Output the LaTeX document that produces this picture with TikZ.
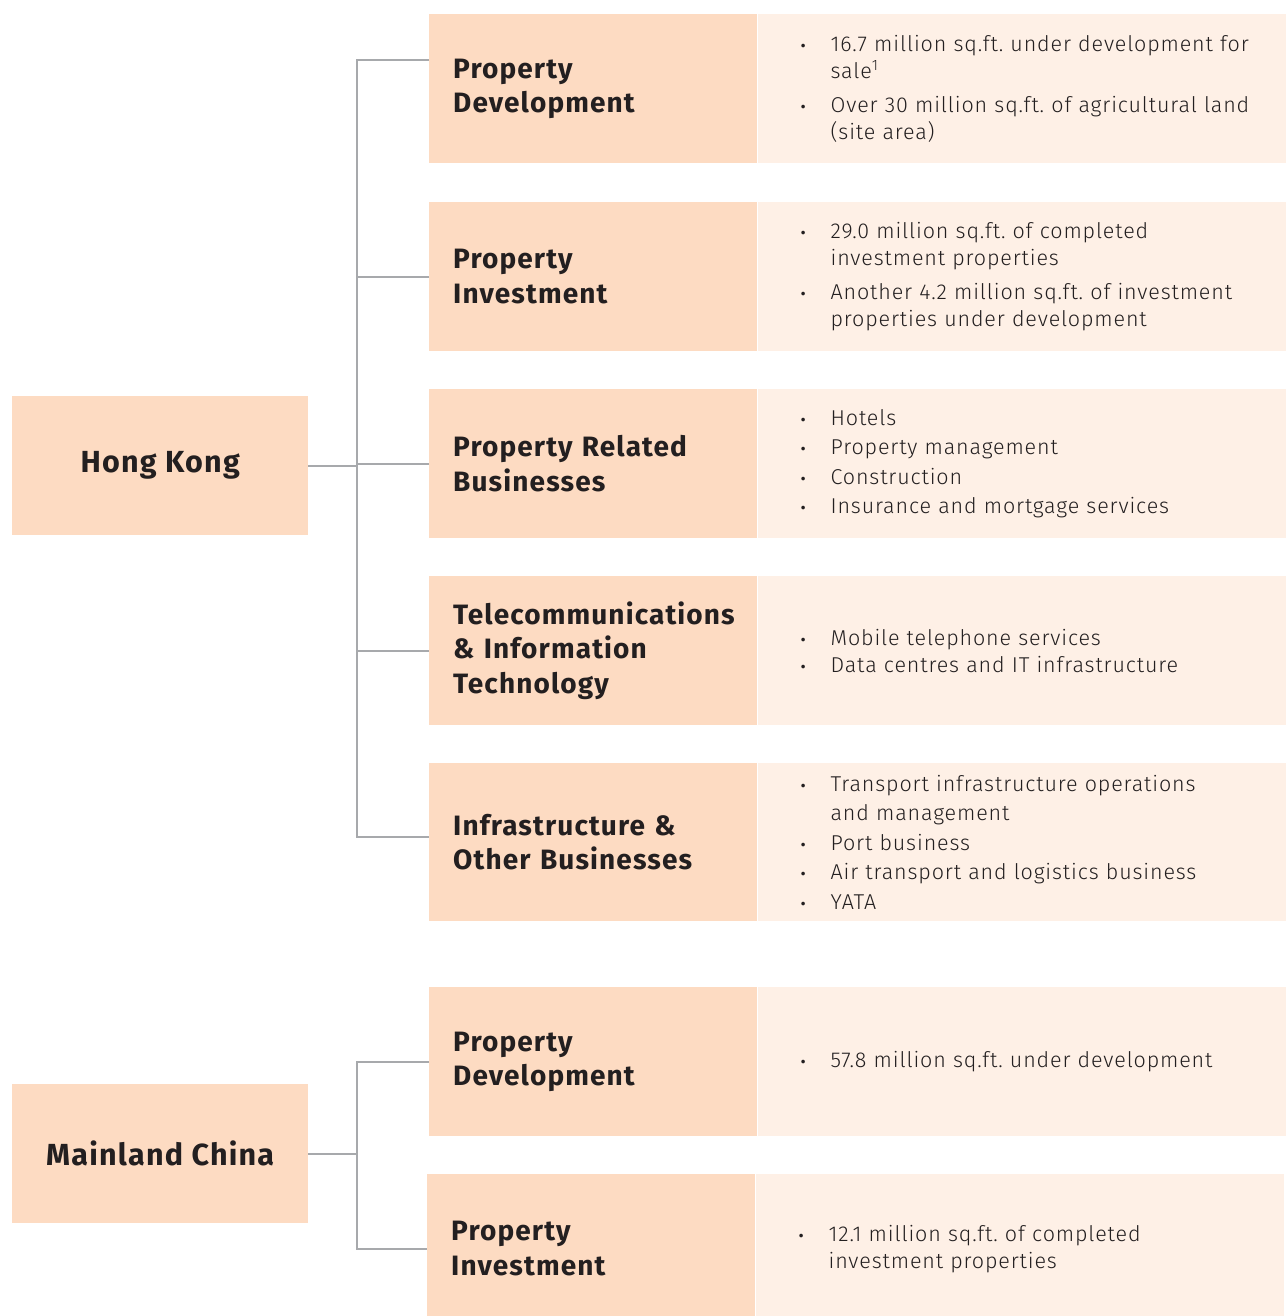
\documentclass[tikz,border=0pt]{standalone}
\usepackage{fontspec}
\setmainfont{Fira Sans}
\newfontfamily\headfont{Fira Sans}[UprightFont=* Bold, LetterSpace=4]
\newfontfamily\lightfont{Fira Sans Light}[LetterSpace=4]
\usetikzlibrary{positioning,calc}

\definecolor{peachdark}{HTML}{FDDBC2}
\definecolor{peachlight}{HTML}{FEF0E6}
\definecolor{linkgray}{HTML}{A7A9AC}
\definecolor{inkdark}{HTML}{231F20}

% one bullet point; wrapped lines hang under the text
\newcommand{\itm}[2][0pt]{\vspace{#1}\noindent\leftskip=22.5pt\hangindent=28pt\hangafter=1
  \makebox[28pt][l]{\hspace{-2pt}{\normalfont\fontsize{16}{16}\selectfont\textbullet}}#2\par}

\begin{document}
\frenchspacing
\begin{tikzpicture}[x=1pt, y=-1pt,
    region/.style={fill=peachdark, text=inkdark, minimum width=296, minimum height=139,
      inner sep=0, font=\headfont\fontsize{30.5}{34}\selectfont},
    segment/.style={fill=peachdark, text=inkdark, anchor=north west, minimum width=328,
      minimum height=149, text width=280, inner xsep=0, align=left,
      font=\headfont\fontsize{28}{34.5}\selectfont},
    facts/.style={fill=peachlight, text=inkdark, minimum width=528, minimum height=149,
      text width=483, inner xsep=0, align=left,
      font=\lightfont\fontsize{21.5}{27}\selectfont},
    loose/.style={font=\lightfont\fontsize{21.5}{29.5}\selectfont},
    link/.style={draw=linkgray, line width=2}]
    \useasboundingbox (0,0) rectangle (1285,1316);

    % Hong Kong
    \node[region, anchor=north west] (hk) at (12,396) {Hong Kong};

    \node[segment] (pdhk) at (429,14) {Property\\Development};
    \node[facts, right=0pt of pdhk] (pdhkx) {%
      \itm{16.7 million sq.ft. under development for\newline sale\textsuperscript{1}}
      \itm[7pt]{Over 30 million sq.ft. of agricultural land\newline (site area)}};

    \node[segment] (pihk) at (429,202) {Property\\Investment};
    \node[facts, right=0pt of pihk] (pihkx) {%
      \itm{29.0 million sq.ft. of completed\newline investment properties}
      \itm[7pt]{Another 4.2 million sq.ft. of investment\newline properties under development}};

    \node[segment] (prb) at (429,389) {Property Related\\Businesses};
    \node[facts, loose, right=0pt of prb] (prbx) {%
      \itm{Hotels}
      \itm{Property management}
      \itm{Construction}
      \itm{Insurance and mortgage services}};

    \node[segment] (tit) at (429,576) {Telecommunications\\\& Information\\Technology};
    \node[facts, right=0pt of tit] (titx) {%
      \itm{Mobile telephone services}
      \itm{Data centres and IT infrastructure}};

    \node[segment, minimum height=158] (iob) at (429,763) {Infrastructure \&\\Other Businesses};
    \node[facts, loose, minimum height=158, right=0pt of iob] (iobx) {%
      \itm{Transport infrastructure operations\newline and management}
      \itm{Port business}
      \itm{Air transport and logistics business}
      \itm{YATA}};

    % Mainland China
    \node[region, anchor=north west] (mc) at (12,1084) {Mainland China};

    \node[segment] (pdmc) at (429,987) {Property\\Development};
    \node[facts, right=0pt of pdmc] (pdmcx) {%
      \itm{57.8 million sq.ft. under development}};

    % runs off the bottom edge of the page
    \node[segment] (pimc) at (427,1174) {Property\\Investment};
    \node[facts, right=0pt of pimc] (pimcx) {%
      \itm{12.1 million sq.ft. of completed\newline investment properties}};

    % Tree connectors
    \coordinate (hktr) at (357,0);
    \coordinate (pdjoin) at ($(pdhk.north west)+(0,46)$);
    \coordinate (iobjoin) at ($(iob.north west)+(0,74)$);
    \draw[link] (hk.east) -- (hk.east -| hktr);
    \draw[link] (pdjoin) -- (pdjoin -| hktr) -- (hktr |- iobjoin) -- (iobjoin);
    \foreach \n in {pihk,prb,tit}
      \draw[link] (\n.west) -- (\n.west -| hktr);

    \coordinate (mctr) at (357,0);
    \draw[link] (mc.east) -- (mc.east -| mctr);
    \draw[link] (pdmc.west) -- (pdmc.west -| mctr) -- (mctr |- pimc.west) -- (pimc.west);
\end{tikzpicture}
\end{document}
